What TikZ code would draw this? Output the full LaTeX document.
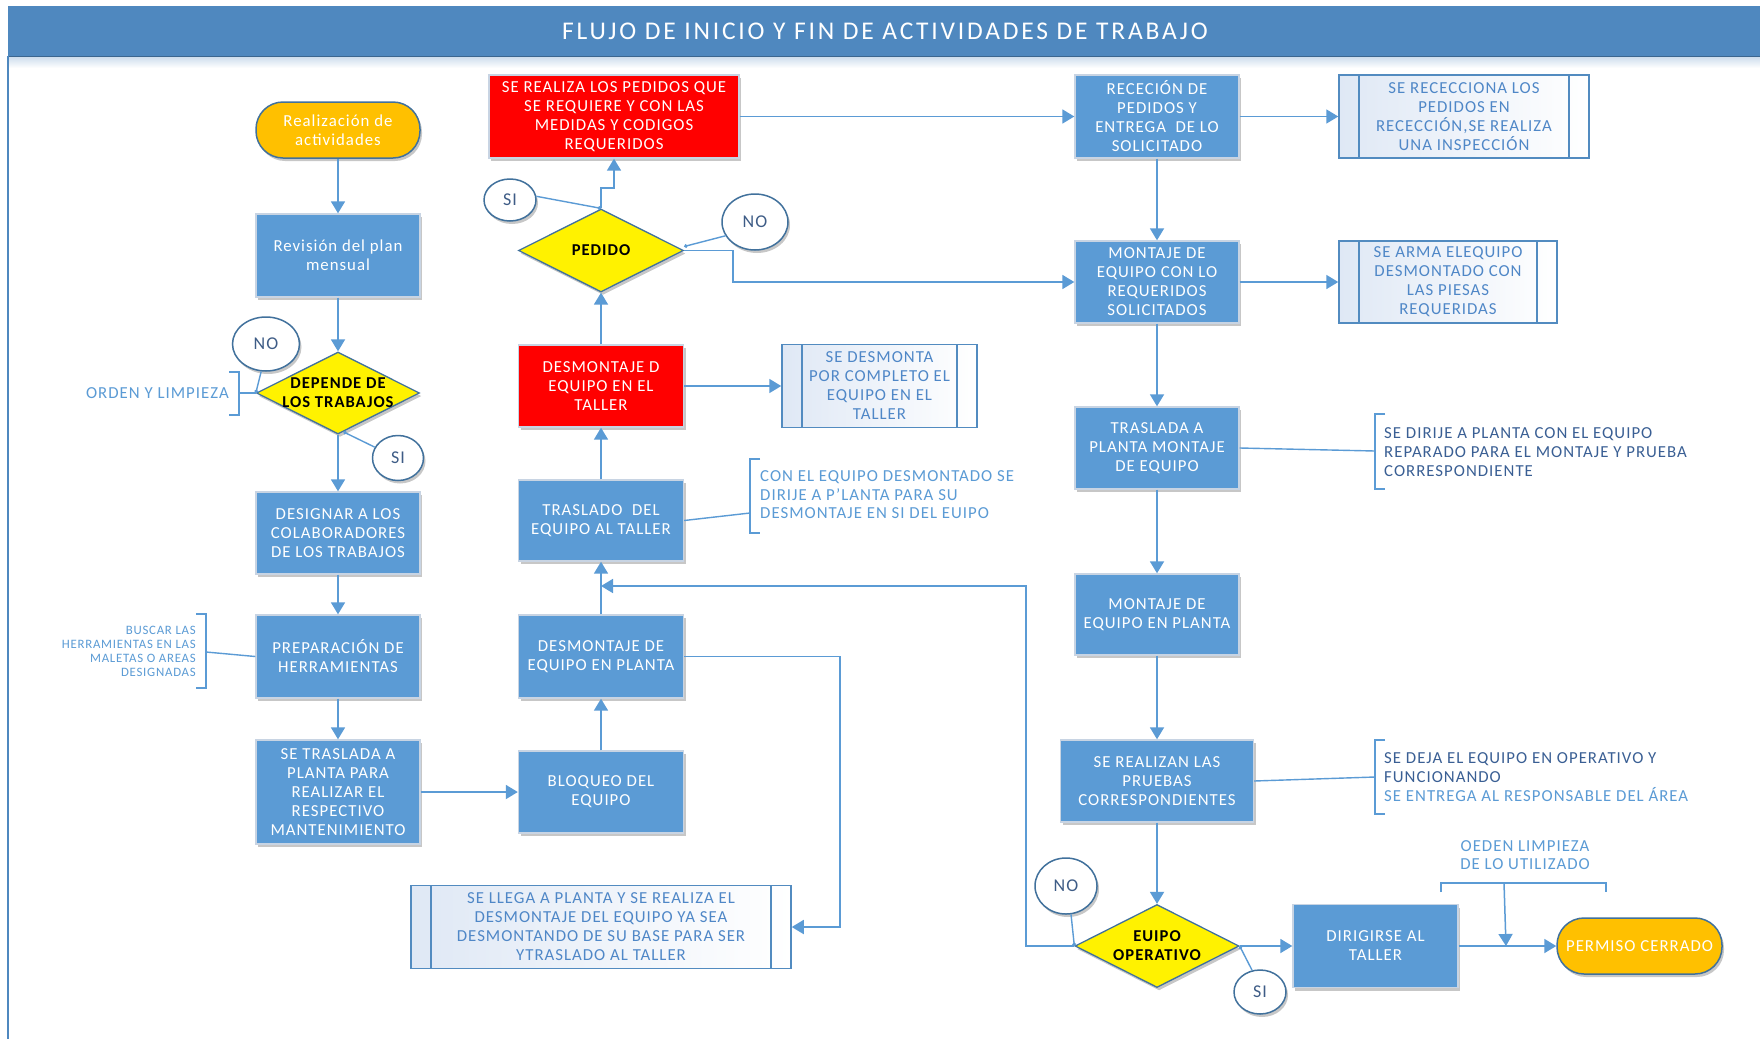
\documentclass[tikz,border=0pt]{standalone}
\usepackage{fontspec}
\setmainfont{Carlito}[LetterSpace=6]
\usetikzlibrary{arrows.meta,shapes.geometric,shadows}

\definecolor{boxblue}{HTML}{5B9BD5}
\definecolor{headblue}{HTML}{4F88BF}
\definecolor{edgeblue}{HTML}{41719C}
\definecolor{tagtext}{HTML}{3E5C86}
\definecolor{notedark}{HTML}{3A5F94}
\definecolor{predtext}{HTML}{4F87C7}
\definecolor{boxedge}{HTML}{C8D4E3}
\definecolor{termfill}{HTML}{FFC000}
\definecolor{predleft}{HTML}{DFE8F5}

\tikzset{
  every node/.style={font=\fontsize{16.8}{19}\selectfont, inner sep=0pt, align=center},
  softshadow/.style={drop shadow={shadow xshift=2pt, shadow yshift=-3pt, opacity=0.22, fill=black}},
  procbox/.style={rectangle, fill=boxblue, draw=boxedge, line width=1.4pt, text=white, softshadow},
  redbox/.style={procbox, fill=red},
  terminal/.style={rectangle, rounded corners=27pt, fill=termfill, draw=edgeblue, line width=1.5pt, text=white, softshadow},
  decision/.style={diamond, fill=yellow, draw=edgeblue, line width=1.3pt, softshadow},
  dtext/.style={font=\bfseries\fontsize{16.6}{19}\selectfont, text=black},
  tag/.style={ellipse, fill=white, draw=edgeblue, line width=1.5pt, text=tagtext, font=\fontsize{18}{20}\selectfont, softshadow},
  predef/.style={rectangle, left color=predleft, right color=white, draw=boxblue!90!black, line width=1.5pt, text=predtext,
    path picture={\draw[boxblue!90!black, line width=1.5pt]
      ([xshift=20pt]path picture bounding box.north west) -- ([xshift=20pt]path picture bounding box.south west)
      ([xshift=-20pt]path picture bounding box.north east) -- ([xshift=-20pt]path picture bounding box.south east);}},
  link/.style={draw=boxblue, line width=1.8pt},
  arr/.style={link, -{Triangle[length=12pt,width=14pt]}},
  tagline/.style={draw=boxblue, line width=1.4pt},
  brk/.style={draw=boxblue, line width=1.4pt},
  note/.style={text=boxblue, align=left, font=\fontsize{16.8}{18.5}\selectfont},
  notesmall/.style={text=boxblue, align=right, font=\fontsize{12.8}{14}\selectfont},
  notedk/.style={text=notedark, align=left, font=\fontsize{16.8}{19}\selectfont},
  titletext/.style={text=white, font=\fontsize{25.5}{28}\selectfont\addfontfeature{LetterSpace=11}},
}

\begin{document}
\begin{tikzpicture}[x=1pt,y=-1pt]
\useasboundingbox (0,0) rectangle (1760,1039);
\fill[white] (0,0) rectangle (1760,1039);

% header band and frame
\fill[top color=headblue!30, bottom color=white] (8,56) rectangle (1760,68);
\fill[headblue] (8,6) rectangle (1760,56);
\draw[headblue!75!black, line width=0.8pt] (8,56) -- (1760,56);
\draw[headblue, line width=1.5pt] (8,56) -- (8,1039);
\node[titletext] (title) at (885,31) {FLUJO DE INICIO Y FIN DE ACTIVIDADES DE TRABAJO};

% ---------- left column ----------
\node[terminal, minimum width=164pt, minimum height=56pt] (st) at (338,130) {Realización de\\actividades};
\node[procbox, minimum width=164pt, minimum height=83pt] (rev) at (338,255.5) {Revisión del plan\\mensual};
\node[decision, minimum width=163pt, minimum height=82pt] (dep) at (338,393) {};
\node[dtext] (dept) at (dep.center) {DEPENDE DE\\LOS TRABAJOS};
\node[procbox, minimum width=164pt, minimum height=82pt] (des) at (338,533) {DESIGNAR A LOS\\COLABORADORES\\DE LOS TRABAJOS};
\node[procbox, minimum width=164pt, minimum height=83pt] (pre) at (338,656.5) {PREPARACIÓN DE\\HERRAMIENTAS};
\node[procbox, minimum width=164pt, minimum height=104pt] (tra) at (338,792) {SE TRASLADA A\\PLANTA PARA\\REALIZAR EL\\RESPECTIVO\\MANTENIMIENTO};

\node[tag, minimum width=67pt, minimum height=54pt] (depno) at (266,344) {NO};
\node[tag, minimum width=51pt, minimum height=45pt] (depsi) at (398,458) {SI};

% ---------- middle column ----------
\node[redbox, minimum width=250pt, minimum height=83pt] (rea) at (614,116.5) {SE REALIZA LOS PEDIDOS QUE\\SE REQUIERE Y CON LAS\\MEDIDAS Y CODIGOS\\REQUERIDOS};
\node[decision, minimum width=165pt, minimum height=83pt] (ped) at (601,250.5) {};
\node[dtext] (pedt) at (ped.center) {PEDIDO};
\node[redbox, minimum width=165pt, minimum height=82pt] (dd) at (601,386) {DESMONTAJE D\\EQUIPO EN EL\\TALLER};
\node[predef, minimum width=195pt, minimum height=83pt] (sdc) at (879.5,386) {SE DESMONTA\\POR COMPLETO EL\\EQUIPO EN EL\\TALLER};
\node[procbox, minimum width=165pt, minimum height=81pt] (tal) at (601,520.5) {TRASLADO\ \ DEL\\EQUIPO AL TALLER};
\node[procbox, minimum width=165pt, minimum height=83pt] (dpl) at (601,656.5) {DESMONTAJE DE\\EQUIPO EN PLANTA};
\node[procbox, minimum width=165pt, minimum height=82pt] (blo) at (601,792) {BLOQUEO DEL\\EQUIPO};
\node[predef, minimum width=380pt, minimum height=83pt] (lle) at (601,927) {SE LLEGA A PLANTA Y SE REALIZA EL\\DESMONTAJE DEL EQUIPO YA SEA\\DESMONTANDO DE SU BASE PARA SER\\YTRASLADO AL TALLER};

\node[tag, minimum width=52pt, minimum height=42pt] (pedsi) at (510,200) {SI};
\node[tag, minimum width=66pt, minimum height=56pt] (pedno) at (755,222) {NO};

% ---------- right column ----------
\node[procbox, minimum width=164pt, minimum height=83pt] (rec) at (1157,116.5) {RECECIÓN DE\\PEDIDOS Y\\ENTREGA\ \ DE LO\\SOLICITADO};
\node[predef, minimum width=250pt, minimum height=83pt] (sre) at (1464,116.5) {SE RECECCIONA LOS\\PEDIDOS EN\\RECECCIÓN,SE REALIZA\\UNA INSPECCIÓN};
\node[procbox, minimum width=164pt, minimum height=82pt] (mon) at (1157,282) {MONTAJE DE\\EQUIPO CON LO\\REQUERIDOS\\SOLICITADOS};
\node[predef, minimum width=218pt, minimum height=82pt] (sar) at (1448,282) {SE ARMA ELEQUIPO\\DESMONTADO CON\\LAS PIESAS\\REQUERIDAS};
\node[procbox, minimum width=164pt, minimum height=82pt] (tpl) at (1157,448) {TRASLADA A\\PLANTA MONTAJE\\DE EQUIPO};
\node[procbox, minimum width=164pt, minimum height=81pt] (mpl) at (1157,614.5) {MONTAJE DE\\EQUIPO EN PLANTA};
\node[procbox, minimum width=193pt, minimum height=82pt] (pru) at (1157,781) {SE REALIZAN LAS\\PRUEBAS\\CORRESPONDIENTES};
\node[decision, minimum width=164pt, minimum height=83pt] (euo) at (1157,946) {};
\node[dtext] (euot) at (euo.center) {EUIPO\\OPERATIVO};
\node[procbox, minimum width=165pt, minimum height=83pt] (dir) at (1375.5,946) {DIRIGIRSE AL\\TALLER};
\node[terminal, minimum width=165pt, minimum height=56pt] (fin) at (1639.5,946) {PERMISO CERRADO};

\node[tag, minimum width=62pt, minimum height=56pt] (euono) at (1066,886) {NO};
\node[tag, minimum width=52pt, minimum height=44pt] (euosi) at (1260,992) {SI};

% ---------- annotations ----------
\node[note, anchor=east] (nord) at (229,393) {ORDEN Y LIMPIEZA};
\node[notesmall, anchor=east] (nbus) at (196,651) {BUSCAR LAS\\HERRAMIENTAS EN LAS\\MALETAS O AREAS\\DESIGNADAS};
\node[note, anchor=west] (ncon) at (760,495) {CON EL EQUIPO DESMONTADO SE\\DIRIJE A P’LANTA PARA SU\\DESMONTAJE EN SI DEL EUIPO};
\node[notedk, anchor=west] (ndir) at (1384,452) {SE DIRIJE A PLANTA CON EL EQUIPO\\REPARADO PARA EL MONTAJE Y PRUEBA\\CORRESPONDIENTE};
\node[notedk, anchor=west] (ndej) at (1384,777) {SE DEJA EL EQUIPO EN OPERATIVO Y\\FUNCIONANDO\\\textcolor{boxblue}{SE ENTREGA AL RESPONSABLE DEL ÁREA}};
\node[note, align=center] (noed) at (1525,855) {OEDEN LIMPIEZA\\DE LO UTILIZADO};

% bracket points
\coordinate (bo1) at (229,372); \coordinate (bo2) at (239,372); \coordinate (bo3) at (239,415); \coordinate (bo4) at (229,415); \coordinate (bo) at (239,393);
\coordinate (bb1) at (196,614); \coordinate (bb2) at (206,614); \coordinate (bb3) at (206,688); \coordinate (bb4) at (196,688); \coordinate (bb) at (206,652);
\coordinate (bc1) at (760,459); \coordinate (bc2) at (750,459); \coordinate (bc3) at (750,533); \coordinate (bc4) at (760,533); \coordinate (bc) at (750,513);
\coordinate (bd1) at (1385,414); \coordinate (bd2) at (1375,414); \coordinate (bd3) at (1375,489); \coordinate (bd4) at (1385,489); \coordinate (bd) at (1375,451);
\coordinate (be1) at (1385,740); \coordinate (be2) at (1375,740); \coordinate (be3) at (1375,814); \coordinate (be4) at (1385,814); \coordinate (be) at (1375,777);
\coordinate (bf1) at (1441,892); \coordinate (bf2) at (1441,883); \coordinate (bf3) at (1606,883); \coordinate (bf4) at (1606,892); \coordinate (bf) at (1504,883);
\coordinate (oedtip) at (1506,946);

\draw[brk] (bo1) -- (bo2) -- (bo3) -- (bo4);  \draw[brk] (bo) -- (dep.west);
\draw[brk] (bb1) -- (bb2) -- (bb3) -- (bb4);  \draw[brk] (bb) -- (pre.west);
\draw[brk] (bc1) -- (bc2) -- (bc3) -- (bc4);  \draw[brk] (tal.east) -- (bc);
\draw[brk] (bd1) -- (bd2) -- (bd3) -- (bd4);  \draw[brk] (tpl.east) -- (bd);
\draw[brk] (be1) -- (be2) -- (be3) -- (be4);  \draw[brk] (pru.east) -- (be);
\draw[brk] (bf1) -- (bf2) -- (bf3) -- (bf4);

% ---------- connectors ----------
\draw[arr] (st) -- (rev);
\draw[arr] (rev) -- (dep);
\draw[arr] (dep) -- (des);
\draw[arr] (des) -- (pre);
\draw[arr] (pre) -- (tra);
\draw[arr] (tra) -- (blo);
\draw[arr] (blo) -- (dpl);
\draw[arr] (dpl) -- (tal);
\draw[arr] (tal) -- (dd);
\draw[arr] (dd) -- (ped);
\draw[arr] (dd) -- (sdc);
\coordinate (pedknee) at (601,188);
\draw[arr] (ped.north) -- (pedknee) -| (rea.south);
\draw[arr] (rea) -- (rec);
\draw[arr] (rec) -- (sre);
\draw[arr] (rec) -- (mon);
\draw[arr] (mon) -- (sar);
\coordinate (noknee) at (733,250.5);
\draw[arr] (ped.east) -- (noknee) |- (mon.west);
\draw[arr] (mon) -- (tpl);
\draw[arr] (tpl) -- (mpl);
\draw[arr] (mpl) -- (pru);
\draw[arr] (pru) -- (euo);
\draw[arr] (euo) -- (dir);
\draw[arr] (dir) -- (fin);
\coordinate (dplknee) at (840,656.5);
\draw[arr] (dpl.east) -- (dplknee) |- (lle.east);
\coordinate (fbknee1) at (1026,946);
\coordinate (fbknee2) at (1026,586);
\coordinate (fbin) at (601,586);
\draw[arr] (euo.west) -- (fbknee1) -- (fbknee2) -- (fbin);
\draw[arr, line width=1.5pt] (bf) -- (oedtip);

% answer tags
\draw[tagline, {Circle[length=3.5pt]}-] (dep.west) -- (depno.260);
\draw[tagline, {Circle[length=3.5pt]}-] (dep.-82) -- (depsi.155);
\draw[tagline, {Circle[length=3.5pt]}-] (ped.north) -- (pedsi.8);
\draw[tagline, {Circle[length=3.5pt]}-] ([yshift=4pt]ped.east) -- (pedno.205);
\draw[tagline, {Circle[length=3.5pt]}-] (euo.west) -- (euono.-80);
\draw[tagline, {Circle[length=3.5pt]}-] (euo.east) -- (euosi.110);
\end{tikzpicture}
\end{document}
